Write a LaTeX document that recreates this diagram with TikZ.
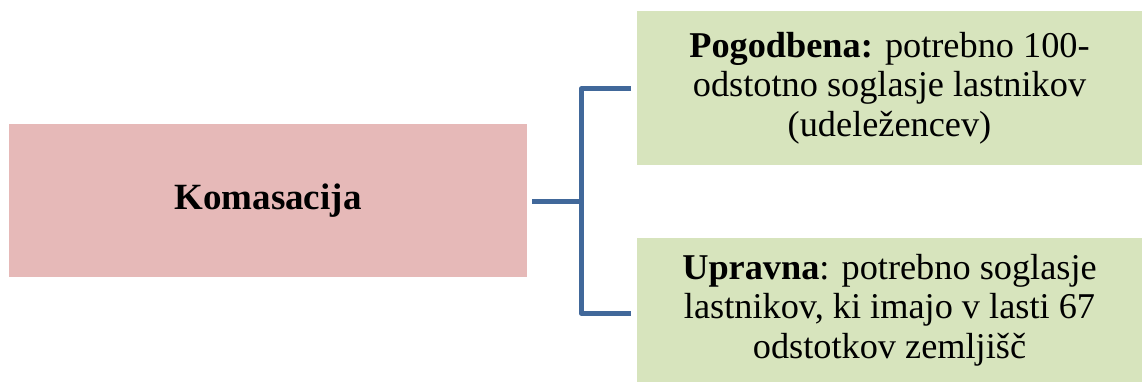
\documentclass[tikz,border=0pt]{standalone}
\usepackage{fontspec}
\setmainfont{LiberationSerif}[Extension=.ttf,UprightFont=*-Regular,BoldFont=*-Bold,ItalicFont=*-Italic,BoldItalicFont=*-BoldItalic]
\definecolor{pinkbox}{HTML}{E6B9B8}
\definecolor{greenbox}{HTML}{D7E4BD}
\definecolor{linkblue}{HTML}{41689A}
\begin{document}
\begin{tikzpicture}[x=1pt,y=-1pt,
  box/.style={draw=none,inner sep=0pt,align=center,font=\rmfamily\fontsize{36.3}{39.5}\selectfont},
  link/.style={draw=linkblue,line width=5pt}]
\useasboundingbox (0,0) rectangle (1142,382);
\node[box,fill=pinkbox,minimum width=518,minimum height=153,font=\rmfamily\fontsize{37}{40}\selectfont] (k) at (268,200.5) {\textbf{Komasacija}};
\node[box,fill=greenbox,minimum width=505,minimum height=154] (p) at (889.5,88) {\textbf{Pogodbena:} potrebno 100-\\odstotno soglasje lastnikov\\(udeležencev)};
\node[box,fill=greenbox,minimum width=505,minimum height=144] (u) at (889.5,310) {\textbf{Upravna}: potrebno soglasje\\lastnikov, ki imajo v lasti 67\\odstotkov zemljišč};
\coordinate (s) at (532,201);
\coordinate (j) at (581,201);
\coordinate (pt) at (631,89);
\coordinate (ut) at (631,313);
\draw[link] (s) -- (j);
\draw[link,line join=round] (pt) -- (j |- pt) -- (j |- ut) -- (ut);
\end{tikzpicture}
\end{document}
